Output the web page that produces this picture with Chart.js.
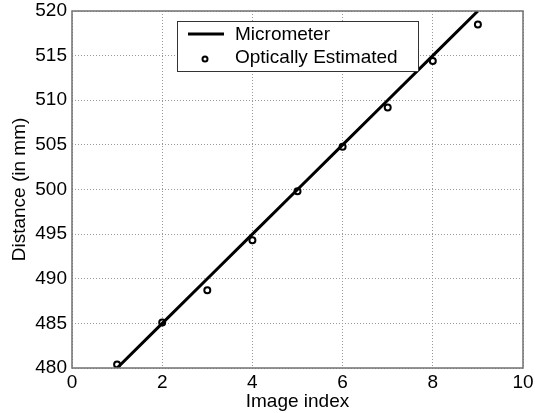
<!DOCTYPE html>
<html>
<head>
<meta charset="utf-8">
<script src="https://cdn.jsdelivr.net/npm/chart.js@4/dist/chart.umd.min.js"></script>
<style>
  html, body { margin: 0; padding: 0; background: #fff; }
  #wrap { width: 535px; height: 413px; }
</style>
</head>
<body>
<div id="wrap"><canvas id="chart"></canvas></div>
<script>
// datos
const imageIndex = [1, 2, 3, 4, 5, 6, 7, 8, 9];
const micrometer = [480, 485, 490, 495, 500, 505, 510, 515, 520];
const optical = [480.4, 485.1, 488.7, 494.3, 499.8, 504.8, 509.2, 514.4, 518.5];
const xTicks = [0, 2, 4, 6, 8, 10];
const yTicks = [480, 485, 490, 495, 500, 505, 510, 515, 520];

const FONT = 'Liberation Sans, Arial, sans-serif';
const SIZE = 19;

// marco completo del area y leyenda dentro del grafico
const frameLegend = {
  id: 'frameLegend',
  afterDraw(chart) {
    const { ctx, chartArea: a } = chart;
    ctx.save();
    ctx.strokeStyle = '#707070';
    ctx.lineWidth = 1.5;
    ctx.strokeRect(a.left, a.top, a.right - a.left, a.bottom - a.top);

    // leyenda
    const bx = 177, by = 21, bw = 241, bh = 50;
    ctx.fillStyle = '#fff';
    ctx.fillRect(bx, by, bw, bh);
    ctx.strokeStyle = '#333';
    ctx.lineWidth = 1;
    ctx.strokeRect(bx + 0.5, by + 0.5, bw, bh);

    ctx.strokeStyle = '#000';
    ctx.lineWidth = 3;
    ctx.beginPath();
    ctx.moveTo(188, 34);
    ctx.lineTo(224, 34);
    ctx.stroke();

    ctx.lineWidth = 2;
    ctx.beginPath();
    ctx.arc(205, 59, 2.5, 0, Math.PI * 2);
    ctx.stroke();

    ctx.fillStyle = '#000';
    ctx.font = SIZE + 'px ' + FONT;
    ctx.textBaseline = 'middle';
    ctx.textAlign = 'left';
    ctx.fillText(chart.data.datasets[0].label, 235, 35);
    ctx.fillText(chart.data.datasets[1].label, 235, 58);
    ctx.restore();
  }
};

new Chart(document.getElementById('chart'), {
  type: 'scatter',
  data: {
    datasets: [
      {
        label: 'Micrometer',
        data: imageIndex.map((x, i) => ({ x, y: micrometer[i] })),
        showLine: true,
        borderColor: '#000',
        borderWidth: 3,
        pointRadius: 0,
      },
      {
        label: 'Optically Estimated',
        data: imageIndex.map((x, i) => ({ x, y: optical[i] })),
        showLine: false,
        borderColor: '#000',
        backgroundColor: '#fff',
        pointRadius: 3,
        pointBorderWidth: 2,
      },
    ],
  },
  options: {
    responsive: true,
    maintainAspectRatio: false,
    animation: false,
    layout: { padding: { top: 11, right: 12, left: 8, bottom: 0 } },
    plugins: {
      legend: { display: false },
      tooltip: { enabled: false },
    },
    scales: {
      x: {
        type: 'linear',
        min: 0,
        max: 10,
        afterBuildTicks: (s) => { s.ticks = xTicks.map(v => ({ value: v })); },
        afterFit: (s) => { s.height = 45; s.paddingLeft = 0; s.paddingRight = 0; },
        grid: {
          color: '#9a9a9a',
          lineWidth: 1,
          drawTicks: false,
        },
        border: { dash: [1, 2], display: false },
        ticks: {
          color: '#000',
          padding: 3,
          font: { family: FONT, size: SIZE },
        },
        title: {
          display: true,
          text: 'Image index',
          color: '#000',
          font: { family: FONT, size: SIZE },
          padding: { top: 0, bottom: 0 },
        },
      },
      y: {
        min: 480,
        max: 520,
        afterBuildTicks: (s) => { s.ticks = yTicks.map(v => ({ value: v })); },
        afterFit: (s) => { s.width = 64; s.paddingTop = 0; s.paddingBottom = 0; },
        grid: {
          color: '#9a9a9a',
          lineWidth: 1,
          drawTicks: false,
        },
        border: { dash: [1, 2], display: false },
        ticks: {
          color: '#000',
          padding: 5,
          font: { family: FONT, size: SIZE },
        },
        title: {
          display: true,
          text: 'Distance (in mm)',
          color: '#000',
          font: { family: FONT, size: SIZE },
          padding: { top: 0, bottom: 0 },
        },
      },
    },
  },
  plugins: [frameLegend],
});
</script>
</body>
</html>
